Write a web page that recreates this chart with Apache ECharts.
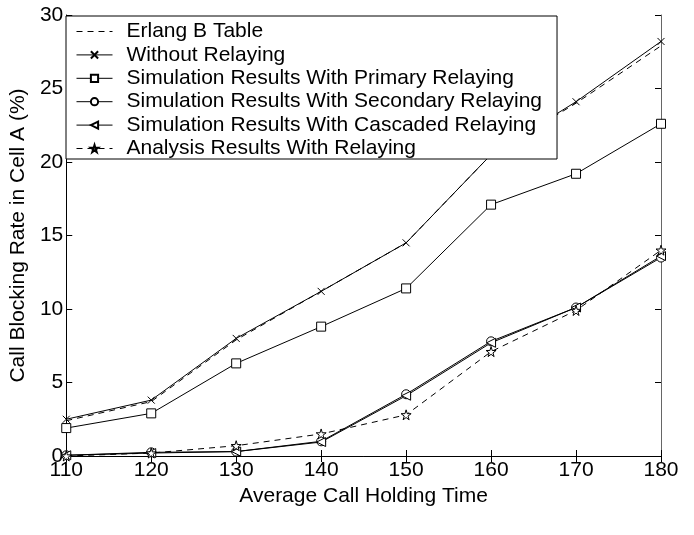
<!DOCTYPE html>
<html>
<head>
<meta charset="utf-8">
<script src="https://cdn.jsdelivr.net/npm/echarts@6/dist/echarts.min.js"></script>
<style>
  html, body { margin: 0; padding: 0; background: #fff; }
  #chart { width: 694px; height: 535px; }
</style>
</head>
<body>
<div id="chart"></div>
<script>
// Average call holding time (x) and blocking rates in cell A (%)
const holdingTimes = [110, 120, 130, 140, 150, 160, 170, 180];
const erlangB      = [2.4, 3.7, 7.9, 11.2, 14.5, 20.5, 24.0, 27.9];
const noRelay      = [2.5, 3.8, 8.0, 11.2, 14.5, 20.5, 24.1, 28.2];
const primary      = [1.9, 2.9, 6.3, 8.8, 11.4, 17.1, 19.2, 22.6];
const secondary    = [0.05, 0.25, 0.3, 1.0, 4.2, 7.8, 10.1, 13.5];
const cascaded     = [0.05, 0.2, 0.3, 0.95, 4.1, 7.7, 10.1, 13.6];
const analysis     = [0.0, 0.2, 0.7, 1.5, 2.8, 7.1, 9.9, 14.0];

const xTicks = [110, 120, 130, 140, 150, 160, 170, 180];
const yTicks = [0, 5, 10, 15, 20, 25, 30];

const FONT = 'Liberation Sans';
const pairs = vals => holdingTimes.map((t, i) => [t, vals[i]]);

const SYM_X = 'path://M0,0L10,10M10,0L0,10';
const SYM_TRI_LEFT = 'path://M0,50L100,0L100,100Z';
const SYM_STAR = 'path://M50,0L61,35L98,35L68,57L79,91L50,70L21,91L32,57L2,35L39,35Z';

function lineSeries(name, vals, symbol, size, dashed) {
  const hidden = symbol === 'none';
  return {
    name: name,
    type: 'line',
    data: pairs(vals),
    symbol: hidden ? 'circle' : symbol,
    showSymbol: !hidden,
    symbolSize: size,
    showAllSymbol: true,
    lineStyle: { color: '#000', width: 1, type: dashed ? [6, 5] : 'solid' },
    // the dashed reference curve carries no markers, so its legend marker is transparent too
    itemStyle: hidden
      ? { color: 'rgba(0,0,0,0)', borderColor: 'rgba(0,0,0,0)', borderWidth: 0 }
      : { color: '#fff', borderColor: '#000', borderWidth: 1 },
    emphasis: { disabled: true },
    animation: false,
    z: 3
  };
}

const series = [
  lineSeries('Erlang B Table', erlangB, 'none', 0, true),
  lineSeries('Without Relaying', noRelay, SYM_X, 7, false),
  lineSeries('Simulation Results With Primary Relaying', primary, 'rect', 9, false),
  lineSeries('Simulation Results With Secondary Relaying', secondary, 'circle', 9, false),
  lineSeries('Simulation Results With Cascaded Relaying', cascaded, SYM_TRI_LEFT, 9, false),
  lineSeries('Analysis Results With Relaying', analysis, SYM_STAR, 10, true)
];

const axisLine = color => ({ lineStyle: { color: color, width: 1 } });
const tickStyle = { show: true, inside: true, length: 6, lineStyle: { color: '#000' } };
const labelStyle = { color: '#000', fontSize: 21, fontFamily: FONT };

const chart = echarts.init(document.getElementById('chart'), null, { renderer: 'canvas' });
chart.setOption({
  backgroundColor: '#fff',
  animation: false,
  grid: { left: 65, right: 33, top: 15, bottom: 79, show: false },
  xAxis: [
    {
      type: 'value', min: xTicks[0], max: xTicks[xTicks.length - 1], interval: 10,
      position: 'bottom',
      axisLine: axisLine('#000'), axisTick: tickStyle, splitLine: { show: false },
      axisLabel: Object.assign({ margin: 4 }, labelStyle),
      name: 'Average Call Holding Time', nameLocation: 'middle', nameGap: 29,
      nameTextStyle: labelStyle
    },
    {
      type: 'value', min: xTicks[0], max: xTicks[xTicks.length - 1], interval: 10,
      position: 'top',
      axisLine: axisLine('#000'), axisTick: tickStyle, splitLine: { show: false },
      axisLabel: { show: false }
    }
  ],
  yAxis: [
    {
      type: 'value', min: yTicks[0], max: yTicks[yTicks.length - 1], interval: 5,
      position: 'left',
      axisLine: axisLine('#000'), axisTick: tickStyle, splitLine: { show: false },
      axisLabel: Object.assign({ margin: 3 }, labelStyle),
      name: 'Call Blocking Rate in Cell A (%)', nameLocation: 'middle', nameGap: 24,
      nameTextStyle: labelStyle
    },
    {
      type: 'value', min: yTicks[0], max: yTicks[yTicks.length - 1], interval: 5,
      position: 'right',
      axisLine: axisLine('#666'), axisTick: tickStyle, splitLine: { show: false },
      axisLabel: { show: false }
    }
  ],
  legend: {
    orient: 'vertical',
    left: 66, top: 16,
    backgroundColor: '#fff',
    borderColor: '#000', borderWidth: 1,
    padding: [5, 15, 0, 10],
    itemWidth: 36, itemHeight: 9, itemGap: 2.4,
    lineStyle: { width: 1 },
    textStyle: { color: '#000', fontSize: 21, fontFamily: FONT, lineHeight: 18, padding: [0, 0, 0, 9] },
    selectedMode: false,
    data: series.map(s => s.name)
  },
  series: series
});
</script>
</body>
</html>
